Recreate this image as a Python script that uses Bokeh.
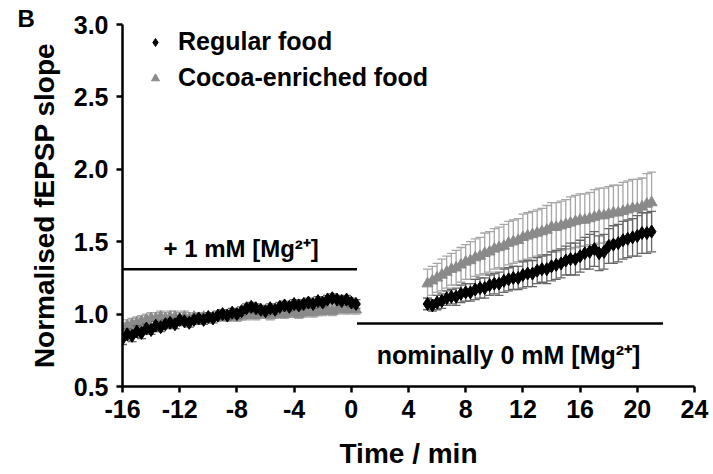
from bokeh.plotting import figure
from bokeh.models import (Range1d, FixedTicker, PrintfTickFormatter, Label, Legend, LegendItem,
                          ColumnDataSource, Title)
from bokeh.embed import file_html
from bokeh.resources import INLINE
import numpy as np

# ---------------- data ----------------
# time grid (min), sampled every 20 s
t_base = np.round(np.arange(50) / 3.0 - 16.0, 2)          # -16 .. 0.33
t_post = np.round(np.arange(48) / 3.0 + 16.0 / 3.0, 2)     # 5.33 .. 21.0

regular_base = [0.83, 0.86, 0.85, 0.88, 0.87, 0.90, 0.89, 0.92, 0.91, 0.93,
                0.94, 0.93, 0.96, 0.95, 0.94, 0.96, 0.97, 0.96, 0.98, 0.97,
                0.99, 1.00, 0.99, 1.01, 1.00, 1.02, 1.04, 1.05, 1.04, 1.03,
                1.02, 1.04, 1.03, 1.05, 1.06, 1.05, 1.07, 1.06, 1.07, 1.08,
                1.07, 1.09, 1.08, 1.10, 1.11, 1.10, 1.09, 1.10, 1.08, 1.07]
regular_base_err = [0.04, 0.04, 0.04, 0.04, 0.04, 0.03, 0.03, 0.03, 0.03, 0.03,
                    0.03, 0.03, 0.03, 0.03, 0.03, 0.03, 0.03, 0.03, 0.03, 0.03,
                    0.03, 0.03, 0.03, 0.03, 0.03, 0.03, 0.03, 0.03, 0.03, 0.03,
                    0.03, 0.03, 0.03, 0.03, 0.03, 0.03, 0.03, 0.03, 0.03, 0.03,
                    0.03, 0.03, 0.03, 0.03, 0.03, 0.03, 0.03, 0.03, 0.03, 0.03]
cocoa_base = [0.90, 0.92, 0.93, 0.94, 0.95, 0.96, 0.97, 0.97, 0.98, 0.97,
              0.98, 0.98, 0.97, 0.98, 0.97, 0.98, 0.97, 0.98, 0.97, 0.98,
              0.98, 0.99, 0.98, 0.99, 0.98, 0.99, 0.99, 1.00, 0.99, 1.00,
              1.00, 0.99, 1.00, 1.01, 1.00, 1.01, 1.01, 1.00, 1.01, 1.02,
              1.01, 1.02, 1.02, 1.03, 1.02, 1.03, 1.04, 1.03, 1.04, 1.03]
cocoa_base_err = [0.04, 0.04, 0.04, 0.04, 0.04, 0.04, 0.04, 0.04, 0.04, 0.04,
                  0.04, 0.04, 0.04, 0.04, 0.04, 0.03, 0.03, 0.03, 0.03, 0.03,
                  0.03, 0.03, 0.03, 0.03, 0.03, 0.03, 0.03, 0.03, 0.03, 0.03,
                  0.03, 0.03, 0.03, 0.03, 0.03, 0.03, 0.03, 0.03, 0.03, 0.03,
                  0.03, 0.03, 0.03, 0.03, 0.03, 0.03, 0.03, 0.03, 0.03, 0.03]

regular_post = [1.07, 1.06, 1.08, 1.09, 1.11, 1.12, 1.12, 1.14, 1.15, 1.15,
                1.17, 1.18, 1.18, 1.20, 1.21, 1.21, 1.23, 1.24, 1.25, 1.25,
                1.27, 1.28, 1.28, 1.30, 1.31, 1.31, 1.33, 1.34, 1.35, 1.37,
                1.38, 1.38, 1.40, 1.42, 1.43, 1.45, 1.42, 1.43, 1.47, 1.48,
                1.49, 1.51, 1.52, 1.53, 1.54, 1.56, 1.56, 1.57]
regular_post_err = [0.04, 0.04, 0.05, 0.05, 0.05, 0.05, 0.06, 0.06, 0.06, 0.06,
                    0.07, 0.07, 0.07, 0.07, 0.07, 0.08, 0.08, 0.08, 0.08, 0.08,
                    0.09, 0.09, 0.09, 0.09, 0.09, 0.10, 0.10, 0.10, 0.10, 0.10,
                    0.11, 0.11, 0.11, 0.11, 0.12, 0.12, 0.12, 0.12, 0.12, 0.13,
                    0.13, 0.13, 0.13, 0.13, 0.14, 0.14, 0.14, 0.14]
cocoa_post = [1.21, 1.23, 1.25, 1.27, 1.29, 1.31, 1.32, 1.34, 1.36, 1.37,
              1.39, 1.40, 1.42, 1.43, 1.45, 1.46, 1.47, 1.49, 1.50, 1.51,
              1.53, 1.54, 1.55, 1.56, 1.57, 1.58, 1.60, 1.60, 1.61, 1.62,
              1.63, 1.64, 1.65, 1.65, 1.66, 1.67, 1.68, 1.68, 1.69, 1.70,
              1.70, 1.71, 1.72, 1.73, 1.73, 1.74, 1.76, 1.77]
cocoa_post_err = [0.10, 0.10, 0.10, 0.11, 0.11, 0.11, 0.12, 0.12, 0.12, 0.13,
                  0.13, 0.13, 0.14, 0.14, 0.14, 0.14, 0.15, 0.15, 0.15, 0.15,
                  0.16, 0.16, 0.16, 0.16, 0.16, 0.17, 0.17, 0.17, 0.17, 0.17,
                  0.18, 0.18, 0.18, 0.18, 0.18, 0.19, 0.19, 0.19, 0.19, 0.19,
                  0.19, 0.20, 0.20, 0.20, 0.20, 0.20, 0.21, 0.21]

x_ticks = [-16, -12, -8, -4, 0, 4, 8, 12, 16, 20, 24]
y_ticks = [0.5, 1.0, 1.5, 2.0, 2.5, 3.0]

# condition bars: (start, end, level) and their labels
mg_on_bar = (-16.0, 0.4, 1.31)
mg_off_bar = (0.4, 21.8, 0.935)
mg_on_text = "+ 1 mM [Mg²⁺]"
mg_off_text = "nominally 0 mM [Mg²⁺]"
panel_letter = "B"

FONT = "Liberation Sans"

def make_src(t, v, e):
    v = np.array(v)
    e = np.array(e)
    return ColumnDataSource(dict(t=t, v=v, lo=v - e, hi=v + e))

reg = make_src(np.concatenate([t_base, t_post]), regular_base + regular_post,
               regular_base_err + regular_post_err)
coc = make_src(np.concatenate([t_base, t_post]), cocoa_base + cocoa_post,
               cocoa_base_err + cocoa_post_err)

p = figure(width=713, height=474, output_backend="svg", toolbar_location=None,
           x_range=Range1d(-16, 24), y_range=Range1d(0.5, 3.0),
           min_border_left=122, min_border_right=19, min_border_top=24, min_border_bottom=88)
p.outline_line_color = None
p.xgrid.visible = False
p.ygrid.visible = False
p.background_fill_color = "white"
p.border_fill_color = "white"

# panel letter as a left-aligned title above the frame
p.add_layout(Title(text=panel_letter, align="left", offset=-105, standoff=-14,
                   text_font=FONT, text_font_style="bold", text_font_size="24px",
                   text_color="black"), "above")

# error bars (cocoa, light grey)
p.segment(x0="t", y0="lo", x1="t", y1="hi", source=coc, line_color="#a6a6a6", line_width=1.3)
p.scatter(x="t", y="hi", source=coc, marker="dash", size=9, line_color="#a6a6a6", line_width=1.3)
p.scatter(x="t", y="lo", source=coc, marker="dash", size=9, line_color="#a6a6a6", line_width=1.3)
r_coc = p.scatter(x="t", y="v", source=coc, marker="triangle", size=11,
                  fill_color="#8a8a8a", line_color="#8a8a8a")
# error bars (regular, darker grey)
p.segment(x0="t", y0="lo", x1="t", y1="hi", source=reg, line_color="#666666", line_width=1.3)
p.scatter(x="t", y="hi", source=reg, marker="dash", size=9, line_color="#666666", line_width=1.3)
p.scatter(x="t", y="lo", source=reg, marker="dash", size=9, line_color="#666666", line_width=1.3)
r_reg = p.scatter(x="t", y="v", source=reg, marker="diamond", size=13,
                  fill_color="black", line_color="black")

# condition bars
for (a, b, lvl) in (mg_on_bar, mg_off_bar):
    p.segment(x0=[a], y0=[lvl], x1=[b], y1=[lvl], line_color="black", line_width=2.5)

p.add_layout(Label(x=-7.7, y=1.455, text=mg_on_text, text_align="center", text_baseline="middle",
                   text_font=FONT, text_font_style="bold", text_font_size="24px", text_color="black"))
p.add_layout(Label(x=11.0, y=0.72, text=mg_off_text, text_align="center", text_baseline="middle",
                   text_font=FONT, text_font_style="bold", text_font_size="25px", text_color="black"))

# axes
for ax in (p.xaxis, p.yaxis):
    ax.axis_line_width = 2.5
    ax.axis_line_color = "black"
    ax.major_tick_line_width = 2.5
    ax.major_tick_out = 6
    ax.major_tick_in = 0
    ax.minor_tick_line_color = None
    ax.major_label_text_font = FONT
    ax.major_label_text_font_style = "bold"
    ax.major_label_text_font_size = "25px"
    ax.major_label_text_color = "black"
    ax.axis_label_text_font = FONT
    ax.axis_label_text_font_style = "bold"
    ax.axis_label_text_font_size = "28px"
    ax.axis_label_text_color = "black"

p.xaxis.ticker = FixedTicker(ticks=x_ticks)
p.yaxis.ticker = FixedTicker(ticks=y_ticks)
p.xaxis.formatter = PrintfTickFormatter(format="%d")
p.yaxis.formatter = PrintfTickFormatter(format="%.1f")
p.xaxis.axis_label = "Time / min"
p.yaxis.axis_label = "Normalised fEPSP slope"
p.xaxis.major_label_standoff = 7
p.yaxis.major_label_standoff = 8
p.xaxis.axis_label_standoff = 17
p.yaxis.axis_label_standoff = 11

legend = Legend(items=[LegendItem(label="Regular food", renderers=[r_reg]),
                       LegendItem(label="Cocoa-enriched food", renderers=[r_coc])],
                location=(23, 294), padding=0, margin=0, spacing=7,
                glyph_width=20, glyph_height=26, label_height=26, label_standoff=13,
                border_line_color=None, background_fill_alpha=0,
                label_text_font=FONT, label_text_font_style="bold",
                label_text_font_size="25px", label_text_color="black")
p.add_layout(legend)

open("out.html", "w").write(file_html(p, INLINE))
